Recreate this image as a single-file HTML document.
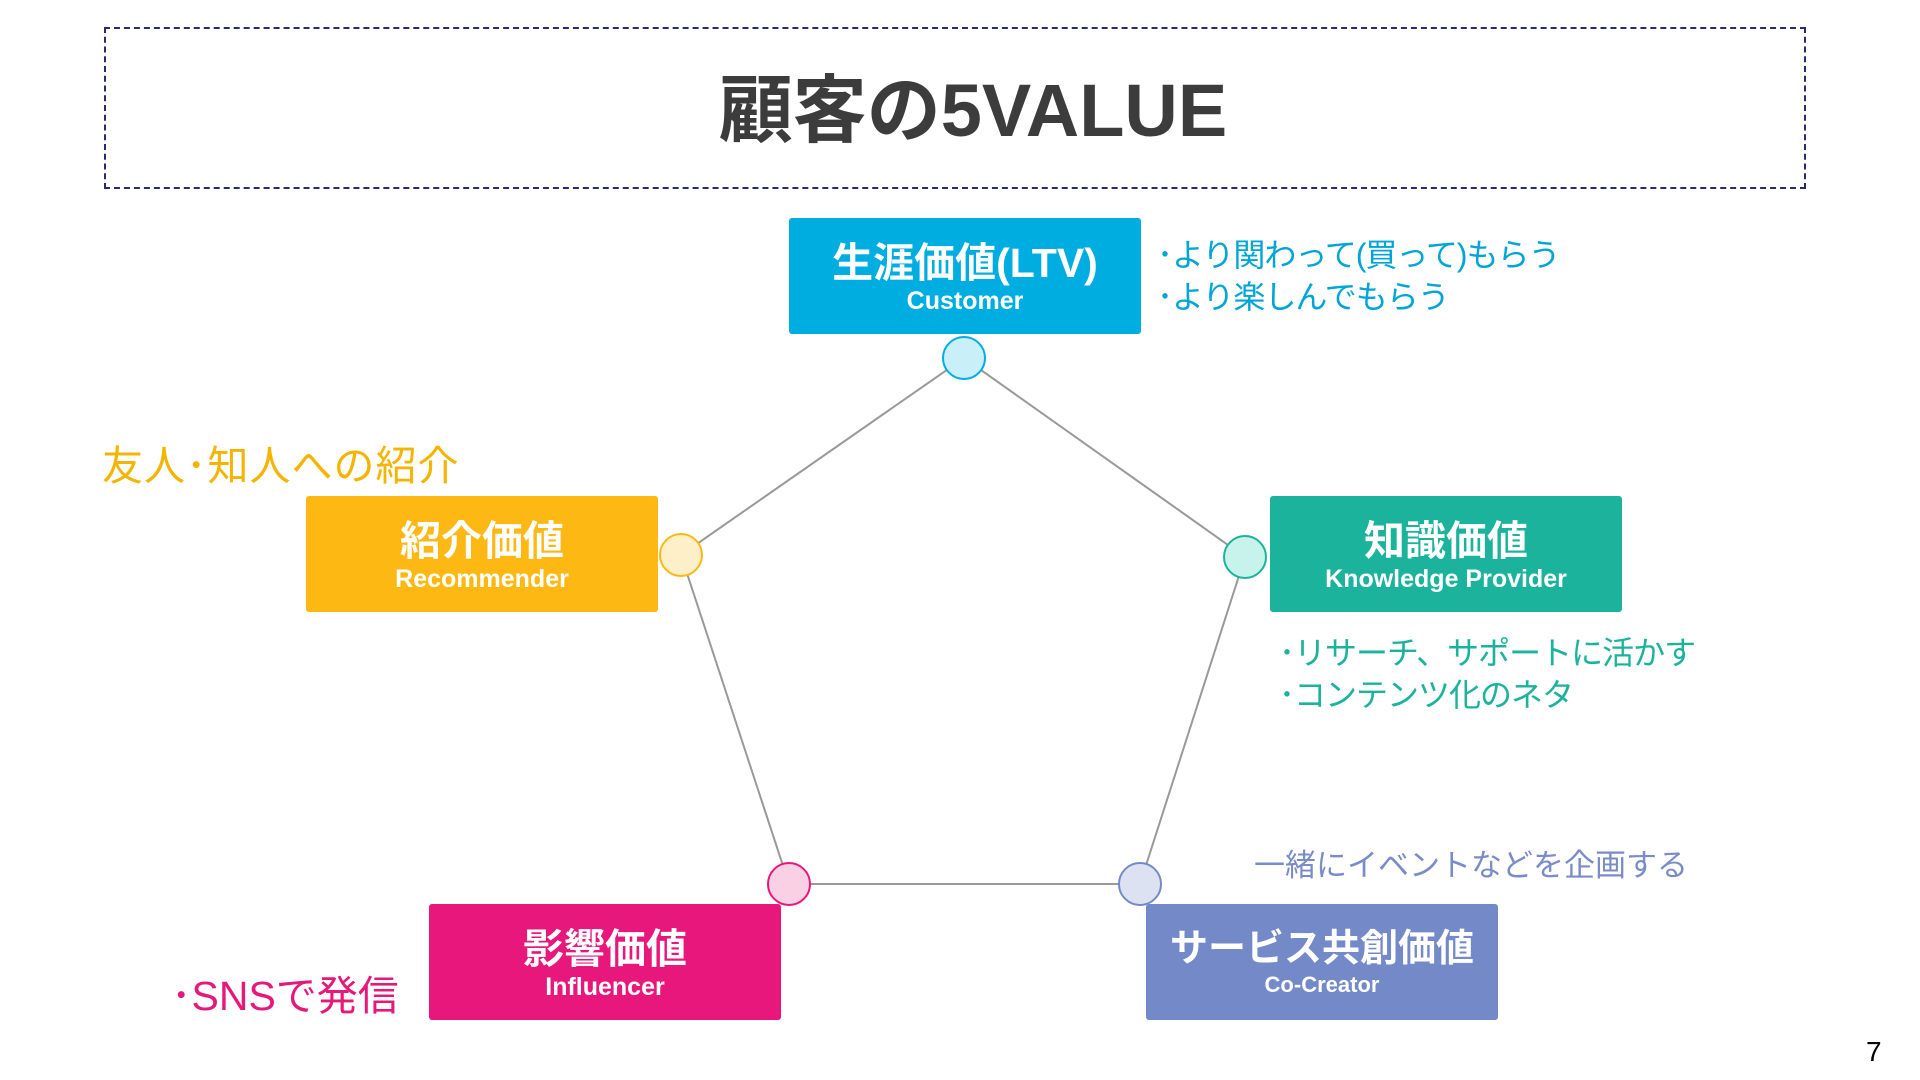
<!DOCTYPE html>
<html><head><meta charset="utf-8"><style>
body{margin:0;width:1920px;height:1080px;background:#fff;position:relative;overflow:hidden;font-family:"Liberation Sans","Noto Sans CJK JP",sans-serif}
.a{position:absolute;white-space:nowrap}
.box{position:absolute;width:352px;height:116px;border-radius:3px;color:#fff;text-align:center;font-weight:bold}
.box .t{font-size:41px;line-height:44px;margin-top:23px}
.box .s{font-size:25px;line-height:32px}
</style></head><body>
<div class="a" style="left:104px;top:27px;width:1698px;height:158px;border:2px dashed #2a2a6e"></div>
<div class="a" style="left:0;width:1946px;top:66px;text-align:center;font-size:74px;font-weight:bold;color:#3c3c3c;line-height:90px">顧客の5VALUE</div>
<svg class="a" style="left:0;top:0" width="1920" height="1080">
<g stroke="#999" stroke-width="2" fill="none">
<polygon points="964,358 1245,557 1140,884 789,884 681,555"/></g>
<circle cx="964" cy="358" r="21" fill="#c9f0f9" stroke="#00ade0" stroke-width="2"/>
<circle cx="1245" cy="557" r="21" fill="#c8f3ec" stroke="#1bb39b" stroke-width="2"/>
<circle cx="681" cy="555" r="21" fill="#fdf0c8" stroke="#fdb813" stroke-width="2"/>
<circle cx="789" cy="884" r="21" fill="#f9d0e4" stroke="#e8177c" stroke-width="2"/>
<circle cx="1140" cy="884" r="21" fill="#dde2f2" stroke="#7489c8" stroke-width="2"/>
</svg>
<div class="box" style="left:789px;top:218px;background:#00ade0"><div class="t">生涯価値(LTV)</div><div class="s">Customer</div></div>
<div class="box" style="left:1270px;top:496px;background:#1bb39b"><div class="t">知識価値</div><div class="s">Knowledge Provider</div></div>
<div class="box" style="left:306px;top:496px;background:#fdb813"><div class="t">紹介価値</div><div class="s">Recommender</div></div>
<div class="box" style="left:429px;top:904px;background:#e8177c"><div class="t">影響価値</div><div class="s">Influencer</div></div>
<div class="box" style="left:1146px;top:904px;background:#7489c8"><div class="t" style="font-size:38px">サービス共創価値</div><div class="s" style="font-size:22px;line-height:28px">Co-Creator</div></div>
<div class="a" style="left:1157px;top:234px;font-size:32px;line-height:42px;color:#00a5d8;letter-spacing:-1px">･より関わって(買って)もらう<br>･より楽しんでもらう</div>
<div class="a" style="left:102px;top:432px;font-size:41px;color:#f5b400;letter-spacing:1px">友人･知人への紹介</div>
<div class="a" style="left:1279px;top:632px;font-size:32px;line-height:42px;color:#1bb39b;letter-spacing:-1px">･リサーチ、サポートに活かす<br>･コンテンツ化のネタ</div>
<div class="a" style="left:1254px;top:840px;font-size:31px;color:#7a8cc8">一緒にイベントなどを企画する</div>
<div class="a" style="left:171px;top:962px;font-size:41px;color:#e5197a">･SNSで発信</div>
<div class="a" style="left:1866px;top:1036px;font-size:28px;color:#000">7</div>
</body></html>
